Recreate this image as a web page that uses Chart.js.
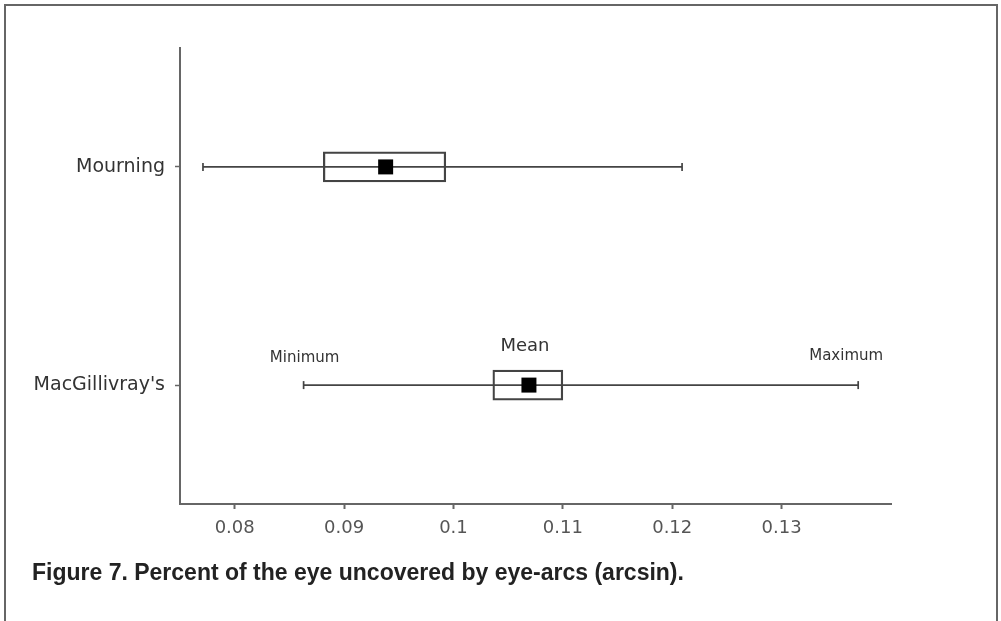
<!DOCTYPE html>
<html>
<head>
<meta charset="utf-8">
<script src="https://cdn.jsdelivr.net/npm/chart.js@4.4.1/dist/chart.umd.min.js"></script>
<style>
  html, body { margin: 0; padding: 0; background: #fff; overflow: hidden; }
  body { width: 1001px; height: 621px; position: relative; }
  #frame { position: absolute; left: 4px; top: 4px; width: 990px; height: 700px;
           border: 2px solid #666; border-bottom: none; }
  #wrap { position: absolute; left: 0; top: 0; width: 1001px; height: 560px; }
  #caption { position: absolute; left: 32px; top: 559px; line-height: 26px;
             font: bold 23px "Liberation Sans", Arial, sans-serif; color: #222; white-space: nowrap; }
</style>
</head>
<body>
<div id="frame"></div>
<div id="wrap"><canvas id="chart"></canvas></div>
<div id="caption">Figure 7. Percent of the eye uncovered by eye-arcs (arcsin).</div>
<script>
// ---------------------------------------------------------------------------
// Data
// ---------------------------------------------------------------------------
const SPECIES = ["Mourning", "MacGillivray's"];
const MIN_VALS = [0.0771, 0.0863];
const Q1_VALS = [0.0881, 0.1036];
const Q3_VALS = [0.0993, 0.1100];
const MEAN_VALS = [0.0938, 0.1069];
const MAX_VALS = [0.1209, 0.1370];
const X_TICKS = [0.08, 0.09, 0.10, 0.11, 0.12, 0.13];
const X_MIN = 0.075, X_MAX = 0.14;
const MARKER_LABELS = ["Minimum", "Mean", "Maximum"]; // annotated on the 2nd species

const LINE = "#444";
const AXIS = "#666";

// whisker line per species, min -> max
const whiskerSets = SPECIES.map((name, i) => ({
  type: "scatter",
  label: name + " range",
  data: [{ x: MIN_VALS[i], y: i + 1 }, { x: MAX_VALS[i], y: i + 1 }],
  showLine: true,
  borderColor: LINE,
  borderWidth: 1.7,
  pointStyle: "line",
  rotation: 90,
  pointRadius: 4,
  pointBorderColor: LINE,
  pointBorderWidth: 1.7,
  order: 3,
}));

const boxSet = {
  type: "bar",
  label: "box",
  indexAxis: "y",
  data: SPECIES.map((n, i) => ({ y: i + 1, x: [Q1_VALS[i], Q3_VALS[i]] })),
  backgroundColor: "rgba(255,255,255,0)",
  borderColor: LINE,
  borderWidth: 1.6,
  borderSkipped: false,
  barThickness: 30,
  order: 2,
};

const meanSet = {
  type: "scatter",
  label: "Mean",
  data: SPECIES.map((n, i) => ({ x: MEAN_VALS[i], y: i + 1 })),
  pointStyle: "rect",
  pointRadius: 10.6,
  backgroundColor: "#000",
  borderWidth: 0,
  order: 1,
};

// text markers above the second species' whisker
const markerLabels = {
  id: "markerLabels",
  afterDatasetsDraw(chart) {
    const { ctx, scales: { x, y } } = chart;
    const i = 1;
    const vals = [MIN_VALS[i], MEAN_VALS[i], MAX_VALS[i]];
    const offs = [[1, -27, 15], [-4, -39, 18], [-12, -29, 15]]; // dx, dy, font size
    ctx.save();
    ctx.fillStyle = "#333";
    ctx.textAlign = "center";
    ctx.textBaseline = "middle";
    MARKER_LABELS.forEach((t, k) => {
      ctx.font = offs[k][2] + "px 'DejaVu Sans', sans-serif";
      ctx.fillText(t, x.getPixelForValue(vals[k]) + offs[k][0], y.getPixelForValue(i + 1) + offs[k][1]);
    });
    ctx.restore();
  }
};

new Chart(document.getElementById("chart"), {
  type: "scatter",
  data: { datasets: [...whiskerSets, boxSet, meanSet] },
  options: {
    responsive: true,
    maintainAspectRatio: false,
    animation: false,
    layout: { padding: { left: 0, top: 48, right: 110, bottom: 0 } },
    plugins: { legend: { display: false }, tooltip: { enabled: false } },
    scales: {
      x: {
        type: "linear",
        min: X_MIN,
        max: X_MAX,
        offset: false,
        afterBuildTicks: s => { s.ticks = X_TICKS.map(v => ({ value: v })); },
        afterFit: s => { s.height = 56; },
        grid: { drawOnChartArea: false, offset: false, tickLength: 5, color: AXIS, tickWidth: 2 },
        border: { color: AXIS, width: 2 },
        ticks: {
          color: "#555",
          padding: 9,
          font: { family: "'DejaVu Sans', sans-serif", size: 18 },
          callback: v => String(Math.round(v * 100) / 100),
        },
      },
      y: {
        type: "linear",
        reverse: true,
        min: 0.455,
        max: 2.545,
        offset: false,
        afterBuildTicks: s => { s.ticks = SPECIES.map((n, i) => ({ value: i + 1 })); },
        afterFit: s => { s.width = 180; },
        grid: { drawOnChartArea: false, offset: false, tickLength: 5, color: AXIS, tickWidth: 1.5 },
        border: { color: AXIS, width: 2 },
        ticks: {
          color: "#333",
          padding: 10,
          font: { family: "'DejaVu Sans', sans-serif", size: 19 },
          callback: v => SPECIES[v - 1],
        },
      },
    },
  },
  plugins: [markerLabels],
});
</script>
</body>
</html>
